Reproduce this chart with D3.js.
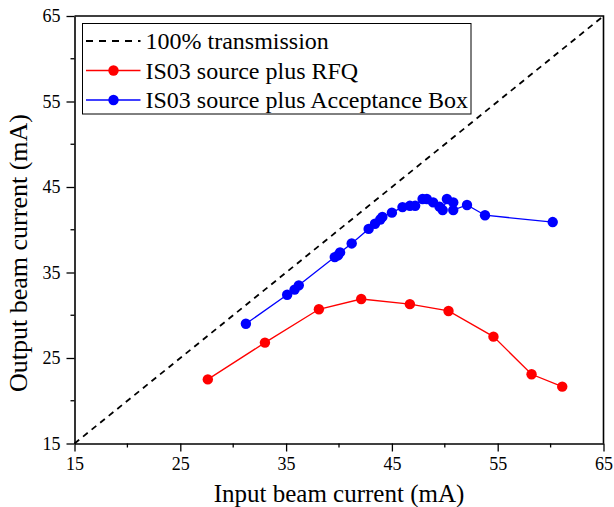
<!DOCTYPE html>
<html>
<head>
<meta charset="utf-8">
<script src="https://cdn.jsdelivr.net/npm/d3@7"></script>
<style>
  body { margin: 0; background: #fff; }
  svg, svg text { font-family: "Liberation Serif", "Times New Roman", serif; }
</style>
</head>
<body>
<div id="chart"></div>
<script>
// data
const rfqIn = [27.6, 33.0, 38.1, 42.1, 46.7, 50.35, 54.6, 58.2, 61.1]
const rfqOut = [22.5, 26.8, 30.7, 31.9, 31.3, 30.5, 27.5, 23.1, 21.65]

const boxIn = [31.2, 35.1, 35.8, 36.2, 39.6, 39.9, 40.1, 41.2, 42.8, 43.4, 43.9, 44.1, 45.0,
  46.0, 46.7, 47.2, 47.9, 48.3, 48.9, 49.5, 49.8, 50.2, 50.8, 50.8, 52.1, 53.8, 60.2]
const boxOut = [29.0, 32.4, 33.0, 33.5, 36.8, 37.0, 37.35, 38.4, 40.1, 40.7, 41.2, 41.5, 42.0,
  42.65, 42.8, 42.8, 43.6, 43.6, 43.2, 42.7, 42.3, 43.6, 43.2, 42.3, 42.9, 41.7, 40.9]

const idealLine = [15, 65]
const majorTicks = [15, 25, 35, 45, 55, 65]
const minorTicks = [20, 30, 40, 50, 60]

const legendLabels = ['100% transmission', 'IS03 source plus RFQ', 'IS03 source plus Acceptance Box']
const colors = ['#000000', '#ff0000', '#0000ff']

const W = 614, H = 507
const margin = { top: 16, left: 74.5, right: 10.5, bottom: 63.5 }

const svg = d3.select('#chart').append('svg')
  .attr('width', W)
  .attr('height', H)

const x = d3.scaleLinear()
  .domain([15, 65])
  .range([margin.left, W - margin.right])

const y = d3.scaleLinear()
  .domain([15, 65])
  .range([H - margin.bottom, margin.top])

// frame top and right
svg.append('path')
  .attr('fill', 'none')
  .attr('stroke', '#000')
  .attr('stroke-width', 1.6)
  .attr('d', `M${x(15)},${y(65)}H${x(65)}V${y(15)}`)

const xAxis = g => g
  .attr('transform', `translate(0,${y(15)})`)
  .call(d3.axisBottom(x).tickValues(majorTicks).tickSize(8).tickPadding(6).tickSizeOuter(0))
  .call(g => g.selectAll('.minor').data(minorTicks).join('line')
    .attr('class', 'minor')
    .attr('x1', d => x(d)).attr('x2', d => x(d))
    .attr('y1', 0).attr('y2', 4)
    .attr('stroke', '#000'))

const yAxis = g => g
  .attr('transform', `translate(${x(15)},0)`)
  .call(d3.axisLeft(y).tickValues(majorTicks).tickSize(8).tickPadding(6).tickSizeOuter(0))
  .call(g => g.selectAll('.minor').data(minorTicks).join('line')
    .attr('class', 'minor')
    .attr('y1', d => y(d)).attr('y2', d => y(d))
    .attr('x1', 0).attr('x2', -4)
    .attr('stroke', '#000'))

svg.append('g').call(xAxis).attr('font-family', null).attr('font-size', 18)
svg.append('g').call(yAxis).attr('font-family', null).attr('font-size', 18)

svg.selectAll('.domain').attr('stroke-width', 1.6)
svg.selectAll('.tick line').attr('stroke-width', 1.3)
svg.selectAll('.minor').attr('stroke-width', 1.3)
svg.selectAll('.tick text')
  .style('font-family', '"Liberation Serif", serif')
  .style('font-size', '18px')
  .attr('fill', '#000')

svg.append('text')
  .attr('x', (x(15) + x(65)) / 2)
  .attr('y', 502)
  .attr('text-anchor', 'middle')
  .attr('font-size', 25)
  .text('Input beam current (mA)')

svg.append('text')
  .attr('transform', 'translate(27,253) rotate(-90)')
  .attr('text-anchor', 'middle')
  .attr('font-size', 26)
  .text('Output beam current (mA)')

// 100% transmission
svg.append('line')
  .attr('x1', x(idealLine[0])).attr('y1', y(idealLine[0]))
  .attr('x2', x(idealLine[1])).attr('y2', y(idealLine[1]))
  .attr('stroke', '#000')
  .attr('stroke-width', 1.8)
  .attr('stroke-dasharray', '6,5')

const line = d3.line()
  .x(d => x(d[0]))
  .y(d => y(d[1]))

const series = [
  { pts: d3.zip(rfqIn, rfqOut), color: colors[1] },
  { pts: d3.zip(boxIn, boxOut), color: colors[2] }
]

series.forEach(s => {
  svg.append('path')
    .attr('fill', 'none')
    .attr('stroke', s.color)
    .attr('stroke-width', 1.3)
    .attr('d', line(s.pts))
  svg.append('g').selectAll('circle')
    .data(s.pts)
    .join('circle')
    .attr('cx', d => x(d[0]))
    .attr('cy', d => y(d[1]))
    .attr('r', 5.2)
    .attr('fill', s.color)
})

// legend
const lg = svg.append('g').attr('transform', 'translate(82.5,23.5)')
lg.append('rect')
  .attr('width', 388.5).attr('height', 90.5)
  .attr('fill', '#fff')
  .attr('stroke', '#000')
  .attr('stroke-width', 1)

legendLabels.forEach((lab, i) => {
  const yy = 17.5 + i * 29.5
  lg.append('line')
    .attr('x1', 3.5).attr('x2', 58)
    .attr('y1', yy).attr('y2', yy)
    .attr('stroke', colors[i])
    .attr('stroke-width', i === 0 ? 1.8 : 1.3)
    .attr('stroke-dasharray', i === 0 ? '7,6' : null)
  if (i > 0) {
    lg.append('circle')
      .attr('cx', 31).attr('cy', yy)
      .attr('r', 5.2)
      .attr('fill', colors[i])
  }
  lg.append('text')
    .attr('x', 63).attr('y', yy + 8)
    .attr('font-size', 24)
    .text(lab)
})
</script>
</body>
</html>
